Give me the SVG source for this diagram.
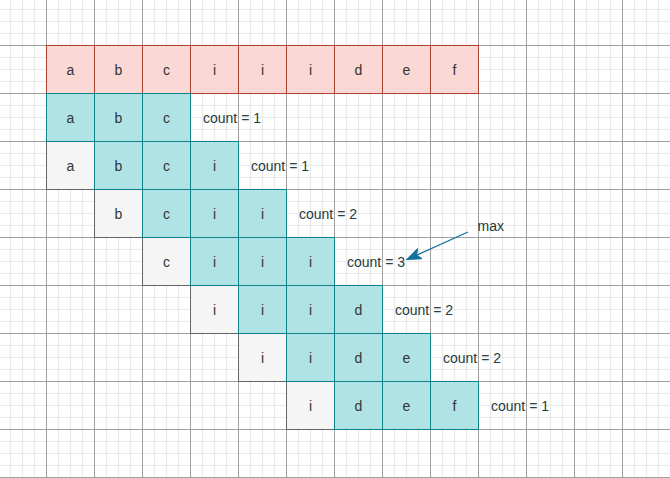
<svg xmlns="http://www.w3.org/2000/svg" width="670" height="478" viewBox="0 0 670 478">
<style>
.r{fill:#fad9d5;stroke:#ae4132;stroke-width:1}
.t{fill:#b0e3e6;stroke:#0e8088;stroke-width:1}
.g{fill:#f5f5f5;stroke:#666666;stroke-width:1}
text{font-family:"Liberation Sans",Arial,sans-serif;font-size:14px;fill:#333333}
.c{text-anchor:middle}
.n{fill:#263c3c}
</style>
<defs>
<pattern id="grid" x="46" y="45" width="48" height="48" patternUnits="userSpaceOnUse">
<path d="M12.5 0V48M24.5 0V48M36.5 0V48M0 12.5H48M0 24.5H48M0 36.5H48" stroke="#e9e9e9" stroke-width="1.2" fill="none"/>
<path d="M0.5 0V48M0 0.5H48" stroke="#a0a0a0" stroke-width="1" fill="none"/>
</pattern>
<marker id="arr" markerUnits="userSpaceOnUse" markerWidth="16" markerHeight="12" refX="13" refY="5.5" orient="auto" viewBox="0 0 14 11">
<path d="M0 0.5L13 5.5L0 10.5L3.5 5.5Z" fill="#10739e" stroke="#10739e" stroke-width="1"/>
</marker>
</defs>
<rect width="670" height="478" fill="#ffffff"/>
<rect width="670" height="478" fill="url(#grid)"/>

<g id="row0">
<g id="r0c0"><rect class="r" x="46.5" y="45.5" width="48" height="48"/><text class="c" x="70.5" y="75">a</text></g>
<g id="r0c1"><rect class="r" x="94.5" y="45.5" width="48" height="48"/><text class="c" x="118.5" y="75">b</text></g>
<g id="r0c2"><rect class="r" x="142.5" y="45.5" width="48" height="48"/><text class="c" x="166.5" y="75">c</text></g>
<g id="r0c3"><rect class="r" x="190.5" y="45.5" width="48" height="48"/><text class="c" x="214.5" y="75">i</text></g>
<g id="r0c4"><rect class="r" x="238.5" y="45.5" width="48" height="48"/><text class="c" x="262.5" y="75">i</text></g>
<g id="r0c5"><rect class="r" x="286.5" y="45.5" width="48" height="48"/><text class="c" x="310.5" y="75">i</text></g>
<g id="r0c6"><rect class="r" x="334.5" y="45.5" width="48" height="48"/><text class="c" x="358.5" y="75">d</text></g>
<g id="r0c7"><rect class="r" x="382.5" y="45.5" width="48" height="48"/><text class="c" x="406.5" y="75">e</text></g>
<g id="r0c8"><rect class="r" x="430.5" y="45.5" width="48" height="48"/><text class="c" x="454.5" y="75">f</text></g>
</g>

<g id="gray">
<g id="r2c0"><rect class="g" x="46.5" y="141.5" width="48" height="48"/><text class="c" x="70.5" y="171">a</text></g>
<g id="r3c1"><rect class="g" x="94.5" y="189.5" width="48" height="48"/><text class="c" x="118.5" y="219">b</text></g>
<g id="r4c2"><rect class="g" x="142.5" y="237.5" width="48" height="48"/><text class="c" x="166.5" y="267">c</text></g>
<g id="r5c3"><rect class="g" x="190.5" y="285.5" width="48" height="48"/><text class="c" x="214.5" y="315">i</text></g>
<g id="r6c4"><rect class="g" x="238.5" y="333.5" width="48" height="48"/><text class="c" x="262.5" y="363">i</text></g>
<g id="r7c5"><rect class="g" x="286.5" y="381.5" width="48" height="48"/><text class="c" x="310.5" y="411">i</text></g>
</g>

<g id="row1">
<g id="r1c0"><rect class="t" x="46.5" y="93.5" width="48" height="48"/><text class="c" x="70.5" y="123">a</text></g>
<g id="r1c1"><rect class="t" x="94.5" y="93.5" width="48" height="48"/><text class="c" x="118.5" y="123">b</text></g>
<g id="r1c2"><rect class="t" x="142.5" y="93.5" width="48" height="48"/><text class="c" x="166.5" y="123">c</text></g>
</g>
<g id="row2">
<g id="r2c1"><rect class="t" x="94.5" y="141.5" width="48" height="48"/><text class="c" x="118.5" y="171">b</text></g>
<g id="r2c2"><rect class="t" x="142.5" y="141.5" width="48" height="48"/><text class="c" x="166.5" y="171">c</text></g>
<g id="r2c3"><rect class="t" x="190.5" y="141.5" width="48" height="48"/><text class="c" x="214.5" y="171">i</text></g>
</g>
<g id="row3">
<g id="r3c2"><rect class="t" x="142.5" y="189.5" width="48" height="48"/><text class="c" x="166.5" y="219">c</text></g>
<g id="r3c3"><rect class="t" x="190.5" y="189.5" width="48" height="48"/><text class="c" x="214.5" y="219">i</text></g>
<g id="r3c4"><rect class="t" x="238.5" y="189.5" width="48" height="48"/><text class="c" x="262.5" y="219">i</text></g>
</g>
<g id="row4">
<g id="r4c3"><rect class="t" x="190.5" y="237.5" width="48" height="48"/><text class="c" x="214.5" y="267">i</text></g>
<g id="r4c4"><rect class="t" x="238.5" y="237.5" width="48" height="48"/><text class="c" x="262.5" y="267">i</text></g>
<g id="r4c5"><rect class="t" x="286.5" y="237.5" width="48" height="48"/><text class="c" x="310.5" y="267">i</text></g>
</g>
<g id="row5">
<g id="r5c4"><rect class="t" x="238.5" y="285.5" width="48" height="48"/><text class="c" x="262.5" y="315">i</text></g>
<g id="r5c5"><rect class="t" x="286.5" y="285.5" width="48" height="48"/><text class="c" x="310.5" y="315">i</text></g>
<g id="r5c6"><rect class="t" x="334.5" y="285.5" width="48" height="48"/><text class="c" x="358.5" y="315">d</text></g>
</g>
<g id="row6">
<g id="r6c5"><rect class="t" x="286.5" y="333.5" width="48" height="48"/><text class="c" x="310.5" y="363">i</text></g>
<g id="r6c6"><rect class="t" x="334.5" y="333.5" width="48" height="48"/><text class="c" x="358.5" y="363">d</text></g>
<g id="r6c7"><rect class="t" x="382.5" y="333.5" width="48" height="48"/><text class="c" x="406.5" y="363">e</text></g>
</g>
<g id="row7">
<g id="r7c6"><rect class="t" x="334.5" y="381.5" width="48" height="48"/><text class="c" x="358.5" y="411">d</text></g>
<g id="r7c7"><rect class="t" x="382.5" y="381.5" width="48" height="48"/><text class="c" x="406.5" y="411">e</text></g>
<g id="r7c8"><rect class="t" x="430.5" y="381.5" width="48" height="48"/><text class="c" x="454.5" y="411">f</text></g>
</g>

<g id="counts">
<g id="count1"><text class="n" x="203" y="123">count = 1</text></g>
<g id="count2"><text class="n" x="251" y="171">count = 1</text></g>
<g id="count3"><text class="n" x="299" y="219">count = 2</text></g>
<g id="count4"><text class="n" x="347" y="267">count = 3</text></g>
<g id="count5"><text class="n" x="395" y="315">count = 2</text></g>
<g id="count6"><text class="n" x="443" y="363">count = 2</text></g>
<g id="count7"><text class="n" x="491" y="411">count = 1</text></g>
</g>
<g id="max"><text class="n" x="477.5" y="231">max</text></g>

<g id="connectors">
<path d="M468 232L407 259.5" stroke="#10739e" stroke-width="1.3" fill="none" marker-end="url(#arr)"/>
</g>
</svg>
